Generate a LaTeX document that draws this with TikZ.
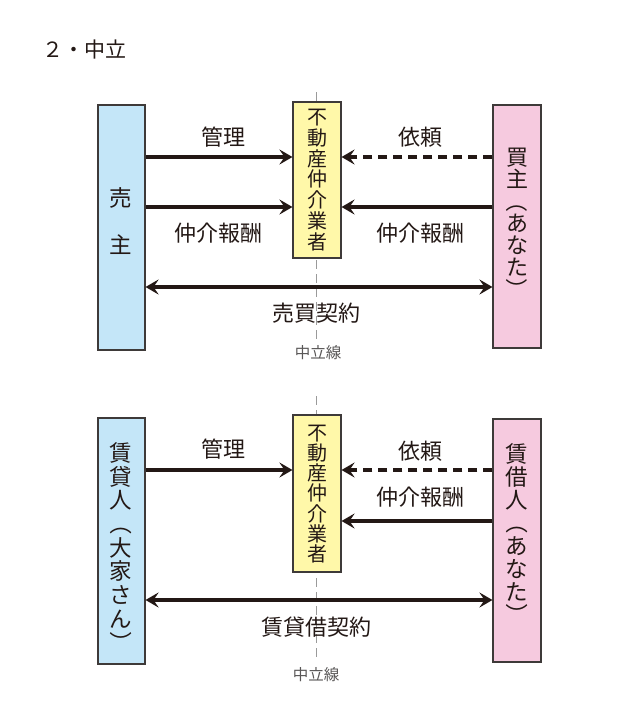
\documentclass[tikz,border=0pt]{standalone}
\usepackage{fontspec}
\setmainfont{Noto Sans CJK JP}
\usetikzlibrary{arrows.meta}
\definecolor{ink}{HTML}{231815}
\definecolor{lblue}{HTML}{C4E6F8}
\definecolor{lpink}{HTML}{F6CADF}
\definecolor{lyellow}{HTML}{FFF8A9}
\definecolor{edgec}{HTML}{3E3A39}
\definecolor{guide}{HTML}{9A9A9A}
\definecolor{notec}{HTML}{595757}
\newcommand{\vpl}{\rotatebox[origin=c]{-90}{（}}
\newcommand{\vpr}{\rotatebox[origin=c]{-90}{）}}
\begin{document}
\begin{tikzpicture}[x=1pt,y=-1pt,
  box/.style={draw=edgec, line width=1.1pt, inner sep=0pt, minimum width=47pt},
  vtext/.style={align=center, inner sep=0pt, text=ink},
  lbl/.style={font=\fontsize{22}{22}\selectfont, text=ink, inner sep=0pt},
  tipr/.tip={Stealth[length=13pt,width=15pt,inset=5pt]},
  arr/.style={line width=3.2pt, draw=ink, -tipr},
  darr/.style={line width=3.2pt, draw=ink, tipr-tipr},
  dasharr/.style={arr, dash pattern=on 9pt off 6pt},
  guideline/.style={draw=guide, line width=0.8pt, dash pattern=on 9pt off 5pt},
  note/.style={font=\fontsize{15.5}{15.5}\selectfont, text=notec, inner sep=0pt}
]
\path[use as bounding box, fill=white] (0,0) rectangle (630,726);

\node[anchor=west, font=\fontsize{21}{21}\selectfont, text=ink, inner sep=0pt] (title) at (42,50) {２・中立};

% ---------- top diagram ----------
\coordinate (g1a) at (316,92);
\coordinate (g1b) at (316,341);
\draw[guideline] (g1a) -- (g1b);

\node[box, fill=lblue, minimum height=245pt] (L1) at (121.5,227.5) {};
\node[vtext, font=\fontsize{22.5}{23.5}\selectfont] (L1t) at (121,221.5) {売\\　\\主};
\node[box, fill=lyellow, minimum width=48pt, minimum height=156pt] (M1) at (317,180) {};
\node[vtext, font=\fontsize{20}{20.7}\selectfont] (M1t) at (317,180) {不\\動\\産\\仲\\介\\業\\者};
\node[box, fill=lpink, minimum width=48pt, minimum height=243pt] (R1) at (517,226.5) {};
\node[vtext, font=\fontsize{22}{22}\selectfont] (R1t) at (517,224) {買\\主\\\vpl\\あ\\な\\た\\\vpr};

\coordinate (t1) at (0,157);
\coordinate (t2) at (0,207);
\coordinate (t3) at (0,287);
\draw[arr] (L1.east |- t1) -- (M1.west |- t1);
\draw[dasharr] (R1.west |- t1) -- (M1.east |- t1);
\draw[arr] (L1.east |- t2) -- (M1.west |- t2);
\draw[arr] (R1.west |- t2) -- (M1.east |- t2);
\draw[darr] (L1.east |- t3) -- (R1.west |- t3);

\node[lbl] (a1) at (223,137) {管理};
\node[lbl] (a2) at (420,137) {依頼};
\node[lbl] (a3) at (218,233) {仲介報酬};
\node[lbl] (a4) at (420,233) {仲介報酬};
\node[lbl] (a5) at (316,313) {売買契約};
\node[note] (n1) at (318,353) {中立線};

% ---------- bottom diagram ----------
\coordinate (g2a) at (316,396);
\coordinate (g2b) at (316,660);
\draw[guideline] (g2a) -- (g2b);

\node[box, fill=lblue, minimum height=246pt] (L2) at (121.5,541) {};
\node[vtext, font=\fontsize{22.5}{23.7}\selectfont] (L2t) at (121,548) {賃\\貸\\人\\\vpl\\大\\家\\さ\\ん\\\vpr};
\node[box, fill=lyellow, minimum width=48pt, minimum height=157pt] (M2) at (317,493.5) {};
\node[vtext, font=\fontsize{20}{20.3}\selectfont] (M2t) at (317,494) {不\\動\\産\\仲\\介\\業\\者};
\node[box, fill=lpink, minimum width=48pt, minimum height=243pt] (R2) at (517,540.5) {};
\node[vtext, font=\fontsize{22.5}{23}\selectfont] (R2t) at (517,535) {賃\\借\\人\\\vpl\\あ\\な\\た\\\vpr};

\coordinate (b1) at (0,470);
\coordinate (b2) at (0,521);
\coordinate (b3) at (0,600);
\draw[arr] (L2.east |- b1) -- (M2.west |- b1);
\draw[dasharr] (R2.west |- b1) -- (M2.east |- b1);
\draw[arr] (R2.west |- b2) -- (M2.east |- b2);
\draw[darr] (L2.east |- b3) -- (R2.west |- b3);

\node[lbl] (c1) at (223,449) {管理};
\node[lbl] (c2) at (420,451) {依頼};
\node[lbl] (c3) at (420,497) {仲介報酬};
\node[lbl] (c4) at (316,627) {賃貸借契約};
\node[note] (n2) at (316,675) {中立線};
\end{tikzpicture}
\end{document}
